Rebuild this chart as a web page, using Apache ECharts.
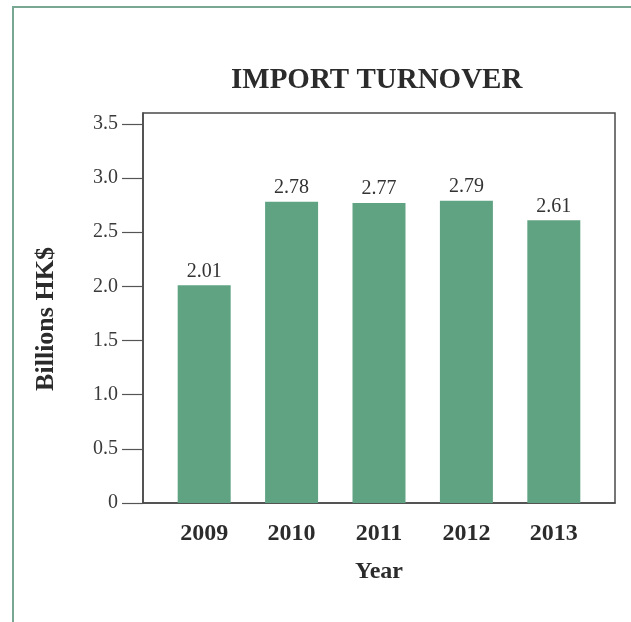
<!DOCTYPE html>
<html>
<head>
<meta charset="utf-8">
<title>Import Turnover</title>
<script src="https://cdn.jsdelivr.net/npm/echarts@6/dist/echarts.min.js"></script>
<style>
  html, body { margin: 0; padding: 0; background: #ffffff; }
  #chart { width: 631px; height: 622px; }
</style>
</head>
<body>
<div id="chart"></div>
<script>
// Import turnover by year, billions of HK dollars
const years = [2009, 2010, 2011, 2012, 2013];
const turnover = [2.01, 2.78, 2.77, 2.79, 2.61];
const yTicks = [0, 0.5, 1.0, 1.5, 2.0, 2.5, 3.0, 3.5];

const serif = '"Liberation Serif", "DejaVu Serif", serif';
const ink = '#2b2b2b';
const barColor = '#60a383';

const chart = echarts.init(document.getElementById('chart'), null, { renderer: 'canvas' });

chart.setOption({
  animation: false,
  backgroundColor: '#ffffff',
  title: {
    text: 'IMPORT TURNOVER',
    left: 226,
    top: 61,
    textStyle: { fontFamily: serif, fontWeight: 'bold', fontSize: 29, color: ink }
  },
  graphic: [{
    type: 'rect',
    silent: true,
    shape: { x: 13, y: 7, width: 720, height: 720 },
    style: { fill: 'none', stroke: '#78a894', lineWidth: 2 }
  }],
  grid: {
    left: 143, top: 113, width: 472, height: 390,
    show: true, borderColor: '#4a4a4a', borderWidth: 1.5, backgroundColor: 'transparent'
  },
  xAxis: {
    type: 'value',
    min: 2008.3,
    max: 2013.7,
    splitLine: { show: false },
    axisLine: { show: true, lineStyle: { color: '#4a4a4a', width: 1.5 } },
    axisTick: { show: false },
    axisLabel: {
      customValues: years,
      formatter: v => String(v),
      margin: 19,
      fontFamily: serif, fontWeight: 'bold', fontSize: 24, color: ink
    },
    name: 'Year',
    nameLocation: 'middle',
    nameGap: 57,
    nameTextStyle: { fontFamily: serif, fontWeight: 'bold', fontSize: 24, color: ink }
  },
  yAxis: {
    type: 'value',
    min: 0,
    max: 3.6,
    interval: 0.5,
    splitLine: { show: false },
    axisLine: { show: true, lineStyle: { color: '#4a4a4a', width: 1.5 } },
    axisTick: {
      show: true, inside: false, length: 21,
      customValues: yTicks,
      lineStyle: { color: '#555555', width: 1.2 }
    },
    axisLabel: {
      customValues: yTicks,
      formatter: v => (v === 0 ? '0' : v.toFixed(1)),
      margin: 25,
      fontFamily: serif, fontSize: 20, color: '#3a3a3a'
    },
    name: 'Billions HK$',
    nameLocation: 'middle',
    nameGap: 84,
    nameTextStyle: { fontFamily: serif, fontWeight: 'bold', fontSize: 26, color: ink, padding: [0, 22, 0, 0] }
  },
  series: [{
    type: 'bar',
    data: years.map((y, i) => [y, turnover[i]]),
    barWidth: 53,
    itemStyle: { color: barColor },
    label: {
      show: true,
      position: 'top',
      distance: 4,
      formatter: p => p.value[1].toFixed(2),
      fontFamily: serif, fontSize: 20, color: '#333333'
    }
  }]
});
</script>
</body>
</html>
